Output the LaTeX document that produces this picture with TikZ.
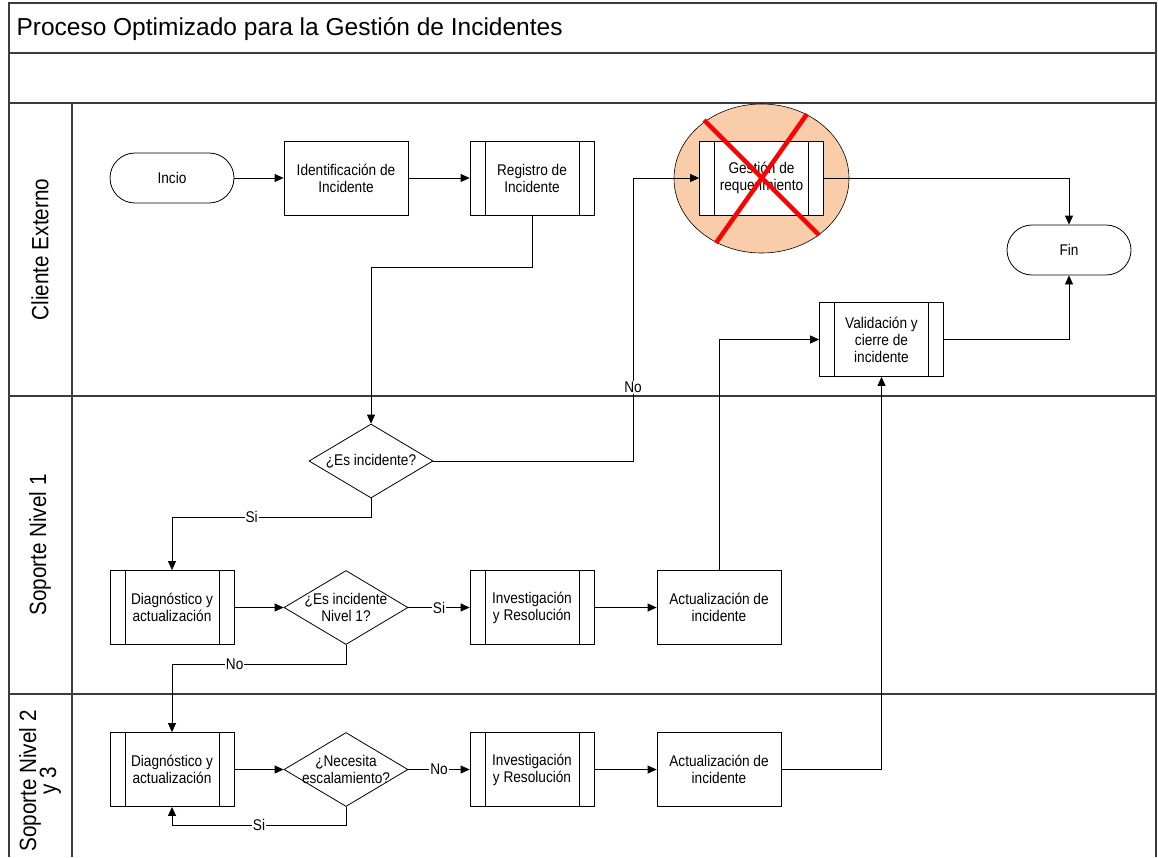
\documentclass[tikz,border=0pt]{standalone}
\usepackage{fontspec}
\setmainfont{Liberation Sans}
\newfontfamily\narrowfont[FakeStretch = 0.88]{Liberation Sans}
\usetikzlibrary{arrows.meta, positioning, shapes.geometric}

\definecolor{peach}{RGB}{249,204,170}
\definecolor{framegray}{RGB}{60,60,60}
\newcommand\lanefont{\narrowfont\fontsize{23.5}{20}\selectfont\lineskiplimit-50pt\relax}

\begin{document}
\begin{tikzpicture}[
        x = 1pt, y = -1pt, node distance = 174pt, on grid,
        >= {Triangle[length = 9pt, width = 8pt]},
        txt/.style = {font = \narrowfont\fontsize{15.5}{17}\selectfont},
        box/.style = {draw, fill = white, line width = 0.8pt, minimum width = 124pt, minimum height = 74pt,
            align = center, inner sep = 2pt, txt},
        subproc/.style = {box, path picture = {
            \draw ([xshift = 15pt]path picture bounding box.north west) -- ([xshift = 15pt]path picture bounding box.south west);
            \draw ([xshift = -15pt]path picture bounding box.north east) -- ([xshift = -15pt]path picture bounding box.south east);}},
        terminal/.style = {box, rounded corners = 25pt, minimum height = 50pt},
        decision/.style = {diamond, draw, fill = white, line width = 0.8pt, minimum width = 124pt, minimum height = 74pt,
            inner sep = 0pt, label = {[txt, align = center]center:{#1}}},
        lane/.style = {rotate = 90, align = center, font = \lanefont},
        lbl/.style = {txt, fill = white, inner sep = 1pt},
        frame/.style = {draw = framegray, line width = 1.4pt},
        link/.style = {->, line width = 0.8pt},
        hv/.style = {to path = {-| (\tikztotarget) \tikztonodes}},
        vh/.style = {to path = {|- (\tikztotarget) \tikztonodes}}
    ]
        \useasboundingbox (0,0) rectangle (1158,857);

        % pool and lanes
        \draw[frame] (9,857) -- (9,3) -- (1156,3) -- (1156,857);
        \draw[frame] (9,53) -- (1156,53) (9,103) -- (1156,103) (9,396) -- (1156,396) (9,694) -- (1156,694);
        \draw[frame] (72,103) -- (72,857);
        \node[anchor = west, font = \fontsize{24.5}{28}\selectfont] (title) at (13,29) {Proceso Optimizado para la Gestión de Incidentes};
        \node[lane] (laneCliente) at (40,249.5) {Cliente Externo};
        \node[lane] (laneNivelA) at (40,545) {Soporte Nivel 1};
        \node[lane] (laneNivelB) at (40,781) {Soporte Nivel 2\\y 3};

        % cliente externo
        \node[terminal] (incio) at (172,178) {Incio};
        \node[box] (ident) [right = of incio] {Identificación de\\Incidente};
        \node[subproc] (registro) [right = 186pt of ident] {Registro de\\Incidente};
        \node[ellipse, draw, fill = peach, line width = 0.6pt, minimum width = 175pt, minimum height = 149pt] (bubble) at (761.5,178.5) {};
        \node[subproc] (gestion) [right = 229.5pt of registro] {Gestión de\\requerimiento};
        \node[terminal] (fin) at (1069,250) {Fin};
        \node[subproc] (valid) at (881.5,339.5) {Validación y\\cierre de\\incidente};

        % soporte nivel 1
        \node[decision = {¿Es incidente?}] (esInc) at (371,461) {};
        \node[subproc] (diagA) at (172,607.5) {Diagnóstico y\\actualización};
        \node[decision = {¿Es incidente\\Nivel 1?}] (esNivel) [right = of diagA] {};
        \node[subproc] (invA) [right = 186pt of esNivel] {Investigación\\y Resolución};
        \node[box] (actA) [right = 187pt of invA] {Actualización de\\incidente};

        % soporte nivel 2 y 3
        \node[subproc] (diagB) at (172,769.5) {Diagnóstico y\\actualización};
        \node[decision = {¿Necesita\\escalamiento?}] (escala) [right = of diagB] {};
        \node[subproc] (invB) [right = 186pt of escala] {Investigación\\y Resolución};
        \node[box] (actB) [right = 187pt of invB] {Actualización de\\incidente};

        \path[link]
            (incio) edge (ident)
            (ident) edge (registro)
            (gestion) edge[hv] (fin)
            (valid) edge[hv] (fin)
            (diagA) edge (esNivel)
            (esNivel) edge node[lbl] {Si} (invA)
            (invA) edge (actA)
            (actA) edge[vh] (valid)
            (diagB) edge (escala)
            (escala) edge node[lbl] {No} (invB)
            (invB) edge (actB)
            (actB) edge[hv] (valid);

        \draw[link] (registro.south) -- ++(0,52) -| (esInc.north);
        \draw[link] (esInc.east) -| node[lbl, pos = 0.63] {No} ([xshift = -66pt]gestion.west) -- (gestion.west);
        \draw[link] (esInc.south) -- ++(0,19) -| node[lbl, pos = 0.3] {Si} (diagA.north);
        \draw[link] (esNivel.south) -- ++(0,19) -| node[lbl, pos = 0.32] {No} (diagB.north);
        \draw[link] (escala.south) -- ++(0,18) -| node[lbl, pos = 0.25] {Si} (diagB.south);

        % crossed out
        \draw[red, line width = 4.5pt] (704,120) -- (819,235) (807,114) -- (716,243);
\end{tikzpicture}
\end{document}
